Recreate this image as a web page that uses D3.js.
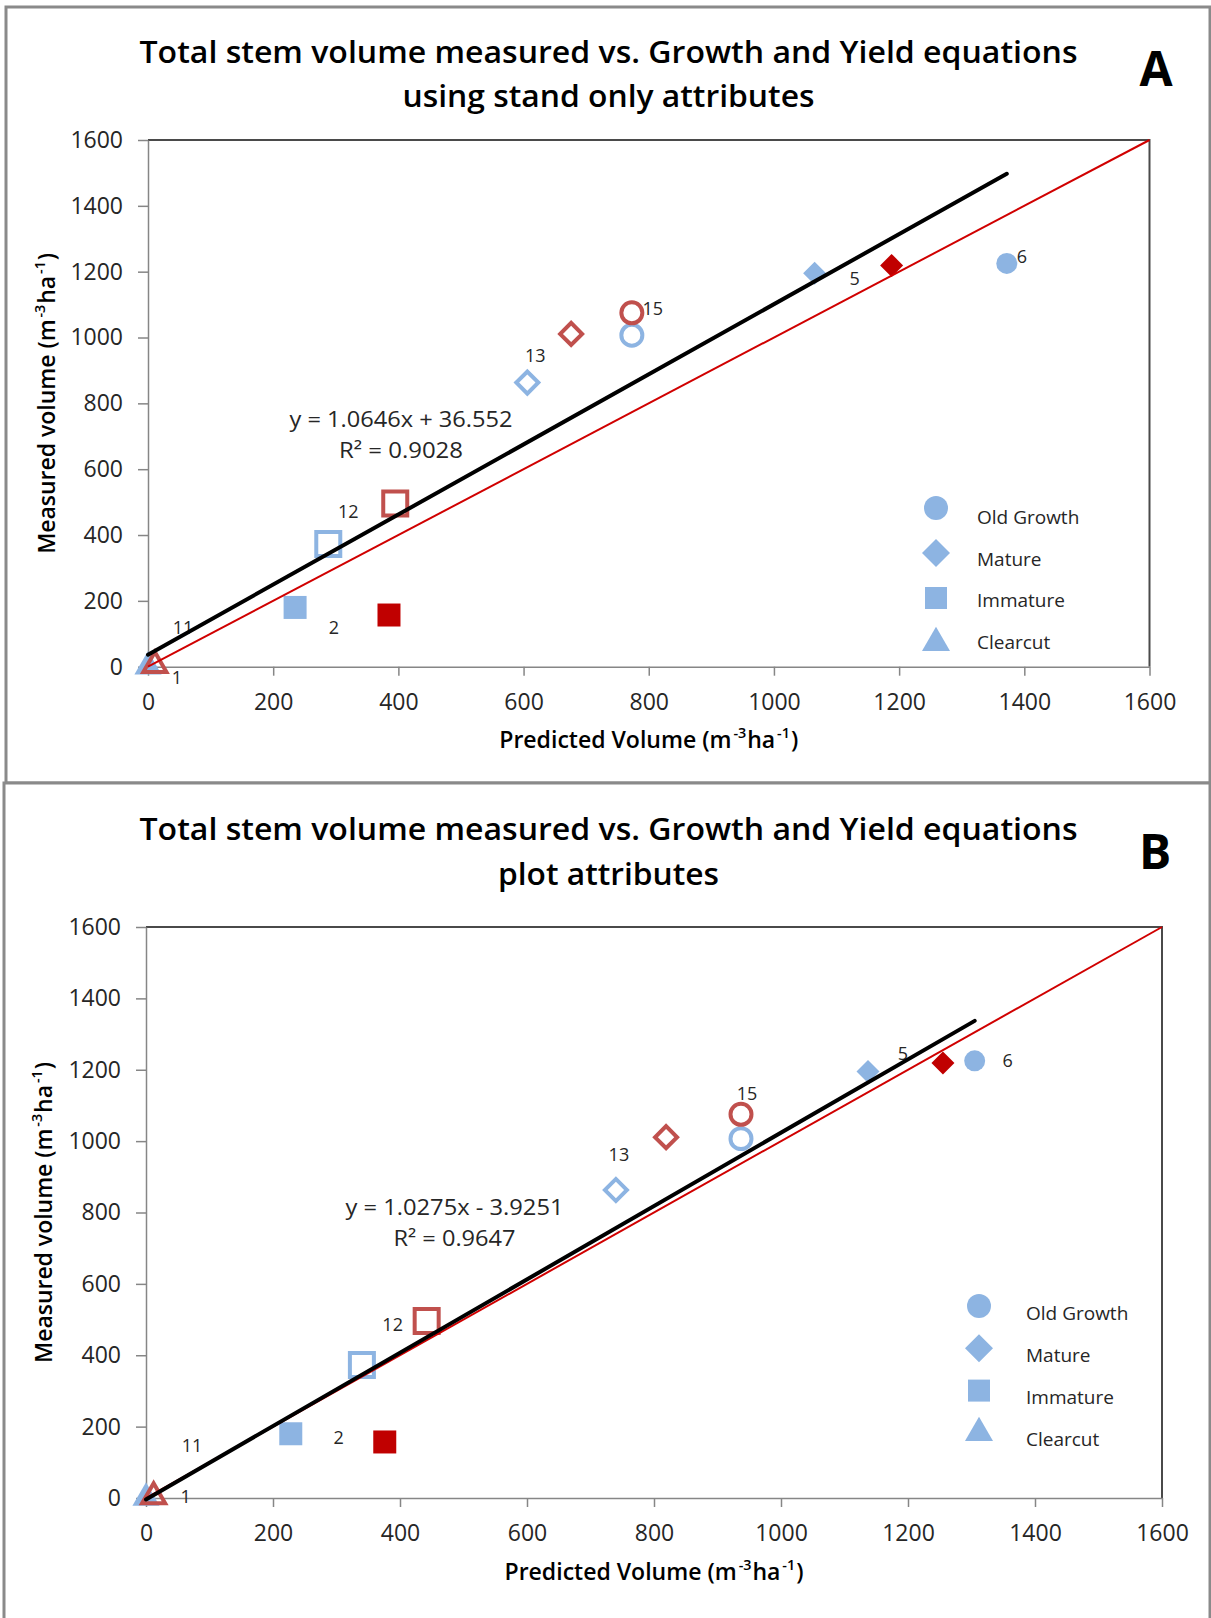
<!DOCTYPE html>
<html>
<head>
<meta charset="utf-8">
<script src="https://cdn.jsdelivr.net/npm/d3@7"></script>
<style>
  body { margin: 0; background: #fff; }
  svg { display: block; font-family: "Open Sans", sans-serif; }
</style>
</head>
<body>
<svg id="chart"></svg>
<script>
// stand classes shown in the legend
const classes = ["Old Growth", "Mature", "Immature", "Clearcut"];

// one entry per marker
const pointClass = ["Old Growth", "Old Growth", "Old Growth", "Mature", "Mature", "Mature", "Mature",
  "Immature", "Immature", "Immature", "Immature", "Clearcut", "Clearcut"];
const pointStyle = ["blueFill", "blueOpen", "redOpen", "blueFill", "redFill", "blueOpen", "redOpen",
  "blueFill", "redFill", "blueOpen", "redOpen", "blueFill", "redOpen"];
const pointLabel = ["6", "", "15", "5", "", "13", "", "", "2", "", "12", "11", "1"];
const measured = [1225, 1007, 1075, 1195, 1219, 863, 1011, 180, 157, 373, 496, 0, 4];
const predictedStand = [1372, 773, 773, 1065, 1188, 606, 676, 235, 385, 288, 395, 0, 11];
const predictedPlot = [1305, 937, 937, 1137, 1255, 740, 819, 228, 376, 340, 442, 0, 12];

const axisTicks = [0, 200, 400, 600, 800, 1000, 1200, 1400, 1600];

const trendStand = { slope: 1.0646, intercept: 36.552, r2: "0.9028", text: "y = 1.0646x + 36.552" };
const trendPlot = { slope: 1.0275, intercept: -3.9251, r2: "0.9647", text: "y = 1.0275x - 3.9251" };

// where the data labels sit relative to their marker (px)
const labelOffsetA = { "6": [15, -7], "5": [40, 5], "15": [21, -4], "13": [8, -27], "12": [-47, 8], "2": [-55, 13], "11": [35, -39], "1": [22, 12] };
const labelOffsetB = { "6": [33, 0], "5": [35, -18], "15": [6, -21], "13": [3, -35], "12": [-34, 4], "2": [-46, -4], "11": [46, -52], "1": [32, 0] };

const BLUE = "#8DB4E2";
const RED = "#C00000";
const RED_OPEN = "#C0504D";
const AXIS = "#868686";

const styles = {
  blueFill: { fill: BLUE, stroke: "none", open: false },
  redFill: { fill: RED, stroke: "none", open: false },
  blueOpen: { fill: "none", stroke: BLUE, open: true },
  redOpen: { fill: "none", stroke: RED_OPEN, open: true }
};
const symbolOf = { "Old Growth": d3.symbolCircle, Mature: d3.symbolSquare, Immature: d3.symbolSquare, Clearcut: d3.symbolTriangle };
const rotOf = { "Old Growth": 0, Mature: 45, Immature: 0, Clearcut: 0 };
const sizeOf = {
  "Old Growth": { fill: 346, open: 346 },
  Mature: { fill: 265, open: 242 },
  Immature: { fill: 529, open: 576 },
  Clearcut: { fill: 320, open: 230 }
};
const legendSize = { "Old Growth": 452, Mature: 392, Immature: 484, Clearcut: 340 };

const panels = [
  {
    letter: "A",
    title: ["Total stem volume measured vs. Growth and Yield equations", "using stand only attributes"],
    titleLen: [938, 412],
    titleY: [63, 107],
    letterXY: [1156, 86],
    box: { x: 6, y: 7, w: 1204, h: 776 },
    plot: { left: 148, right: 1149.5, top: 140, bottom: 666.7 },
    predicted: predictedStand,
    trend: trendStand,
    eq: { x: 401, y: 426.7, len: [223, 124] },
    yTitleX: 55,
    xTitleY: 748,
    legend: { x: 936, y0: 508, step: 45, textX: 977, textY0: 524, textStep: 41.7 },
    offsets: labelOffsetA
  },
  {
    letter: "B",
    title: ["Total stem volume measured vs. Growth and Yield equations", "plot attributes"],
    titleLen: [938, 221],
    titleY: [840, 885],
    letterXY: [1155, 869],
    box: { x: 4, y: 783, w: 1206, h: 845 },
    plot: { left: 146, right: 1162, top: 927, bottom: 1498 },
    predicted: predictedPlot,
    trend: trendPlot,
    eq: { x: 454.5, y: 1215, len: [218, 122] },
    yTitleX: 52,
    xTitleY: 1580,
    legend: { x: 979, y0: 1306, step: 42.3, textX: 1026, textY0: 1320, textStep: 42 },
    offsets: labelOffsetB
  }
];

const svg = d3.select("#chart").attr("width", 1211).attr("height", 1618);

function unitTitle(sel, main) {
  sel.append("tspan").text(main + " (m");
  sel.append("tspan").attr("font-size", 15).attr("dx", 2).attr("baseline-shift", "super").text("-3");
  sel.append("tspan").attr("dx", 1).text("ha");
  sel.append("tspan").attr("font-size", 15).attr("dx", 2).attr("baseline-shift", "super").text("-1");
  sel.append("tspan").attr("dx", 1).text(")");
}

panels.forEach((p) => {
  const g = svg.append("g");

  g.append("rect")
    .attr("x", p.box.x)
    .attr("y", p.box.y)
    .attr("width", p.box.w)
    .attr("height", p.box.h)
    .attr("fill", "#fff")
    .attr("stroke", "#8a8a8a")
    .attr("stroke-width", 3);

  const x = d3.scaleLinear().domain([0, 1600]).range([p.plot.left, p.plot.right]);
  const y = d3.scaleLinear().domain([0, 1600]).range([p.plot.bottom, p.plot.top]);

  // title
  p.title.forEach((t, i) => {
    g.append("text")
      .text(t)
      .attr("x", 608.5)
      .attr("y", p.titleY[i])
      .attr("text-anchor", "middle")
      .attr("font-size", 30)
      .attr("font-weight", 600)
      .attr("textLength", p.titleLen[i])
      .attr("lengthAdjust", "spacingAndGlyphs");
  });

  g.append("text")
    .text(p.letter)
    .attr("x", p.letterXY[0])
    .attr("y", p.letterXY[1])
    .attr("text-anchor", "middle")
    .attr("font-size", 48)
    .attr("font-weight", "bold");

  // plot area border (top and right)
  g.append("path")
    .attr("d", `M${p.plot.left},${p.plot.top}H${p.plot.right}V${p.plot.bottom}`)
    .attr("fill", "none")
    .attr("stroke", "#4a4a4a")
    .attr("stroke-width", 2);

  // axes
  const fmt = d3.format("d");
  const xAxis = g.append("g")
    .attr("transform", `translate(0,${p.plot.bottom})`)
    .call(d3.axisBottom(x).tickValues(axisTicks).tickFormat(fmt).tickSize(9).tickSizeOuter(0).tickPadding(18));
  const yAxis = g.append("g")
    .attr("transform", `translate(${p.plot.left},0)`)
    .call(d3.axisLeft(y).tickValues(axisTicks).tickFormat(fmt).tickSize(10).tickSizeOuter(0).tickPadding(15));
  [xAxis, yAxis].forEach((a) => {
    a.attr("font-family", null).attr("font-size", 23);
    a.select(".domain").attr("stroke", AXIS).attr("stroke-width", 1.5);
    a.selectAll(".tick line").attr("stroke", AXIS).attr("stroke-width", 1.5);
    a.selectAll(".tick text").attr("fill", "#262626");
  });

  // axis titles
  const xt = g.append("text")
    .attr("x", (p.plot.left + p.plot.right) / 2)
    .attr("y", p.xTitleY)
    .attr("text-anchor", "middle")
    .attr("font-size", 24)
    .attr("font-weight", 600)
    .attr("textLength", 299)
    .attr("lengthAdjust", "spacingAndGlyphs");
  unitTitle(xt, "Predicted Volume");

  const yt = g.append("text")
    .attr("transform", `translate(${p.yTitleX},${(p.plot.top + p.plot.bottom) / 2}) rotate(-90)`)
    .attr("text-anchor", "middle")
    .attr("font-size", 24)
    .attr("font-weight", 600)
    .attr("textLength", 301)
    .attr("lengthAdjust", "spacingAndGlyphs");
  unitTitle(yt, "Measured volume");

  // markers
  const pts = measured.map((m, i) => ({
    cls: pointClass[i],
    style: pointStyle[i],
    label: pointLabel[i],
    x: p.predicted[i],
    y: m
  }));

  g.append("g")
    .selectAll("path")
    .data(pts)
    .join("path")
    .attr("d", (d) => {
      const st = styles[d.style];
      return d3.symbol(symbolOf[d.cls], st.open ? sizeOf[d.cls].open : sizeOf[d.cls].fill)();
    })
    .attr("transform", (d) => `translate(${x(d.x)},${y(d.y)}) rotate(${rotOf[d.cls]})`)
    .attr("fill", (d) => styles[d.style].fill)
    .attr("stroke", (d) => styles[d.style].stroke)
    .attr("stroke-width", 4);

  // data labels
  g.append("g")
    .selectAll("text")
    .data(pts.filter((d) => d.label !== ""))
    .join("text")
    .text((d) => d.label)
    .attr("x", (d) => x(d.x) + p.offsets[d.label][0])
    .attr("y", (d) => y(d.y) + p.offsets[d.label][1])
    .attr("dy", "0.36em")
    .attr("text-anchor", "middle")
    .attr("font-size", 18)
    .attr("fill", "#262626");

  // 1:1 line
  const line = d3.line().x((d) => x(d[0])).y((d) => y(d[1]));
  g.append("path")
    .attr("d", line([[0, 0], [1600, 1600]]))
    .attr("stroke", "#D00000")
    .attr("stroke-width", 2)
    .attr("fill", "none");

  // linear trendline
  const xmax = d3.max(p.predicted);
  g.append("path")
    .attr("d", line([[0, p.trend.intercept], [xmax, p.trend.slope * xmax + p.trend.intercept]]))
    .attr("stroke", "#000")
    .attr("stroke-width", 4)
    .attr("stroke-linecap", "round")
    .attr("fill", "none");

  g.append("text")
    .text(p.trend.text)
    .attr("x", p.eq.x)
    .attr("y", p.eq.y)
    .attr("text-anchor", "middle")
    .attr("font-size", 22)
    .attr("fill", "#262626")
    .attr("textLength", p.eq.len[0])
    .attr("lengthAdjust", "spacingAndGlyphs");
  g.append("text")
    .text("R² = " + p.trend.r2)
    .attr("x", p.eq.x)
    .attr("y", p.eq.y + 31)
    .attr("text-anchor", "middle")
    .attr("font-size", 22)
    .attr("fill", "#262626")
    .attr("textLength", p.eq.len[1])
    .attr("lengthAdjust", "spacingAndGlyphs");

  // legend
  const lg = g.append("g");
  classes.forEach((c, i) => {
    lg.append("path")
      .attr("d", d3.symbol(symbolOf[c], legendSize[c])())
      .attr("transform", `translate(${p.legend.x},${p.legend.y0 + i * p.legend.step}) rotate(${rotOf[c]})`)
      .attr("fill", BLUE);
    lg.append("text")
      .text(c)
      .attr("x", p.legend.textX)
      .attr("y", p.legend.textY0 + i * p.legend.textStep)
      .attr("font-size", 19)
      .attr("fill", "#262626");
  });
});
</script>
</body>
</html>
